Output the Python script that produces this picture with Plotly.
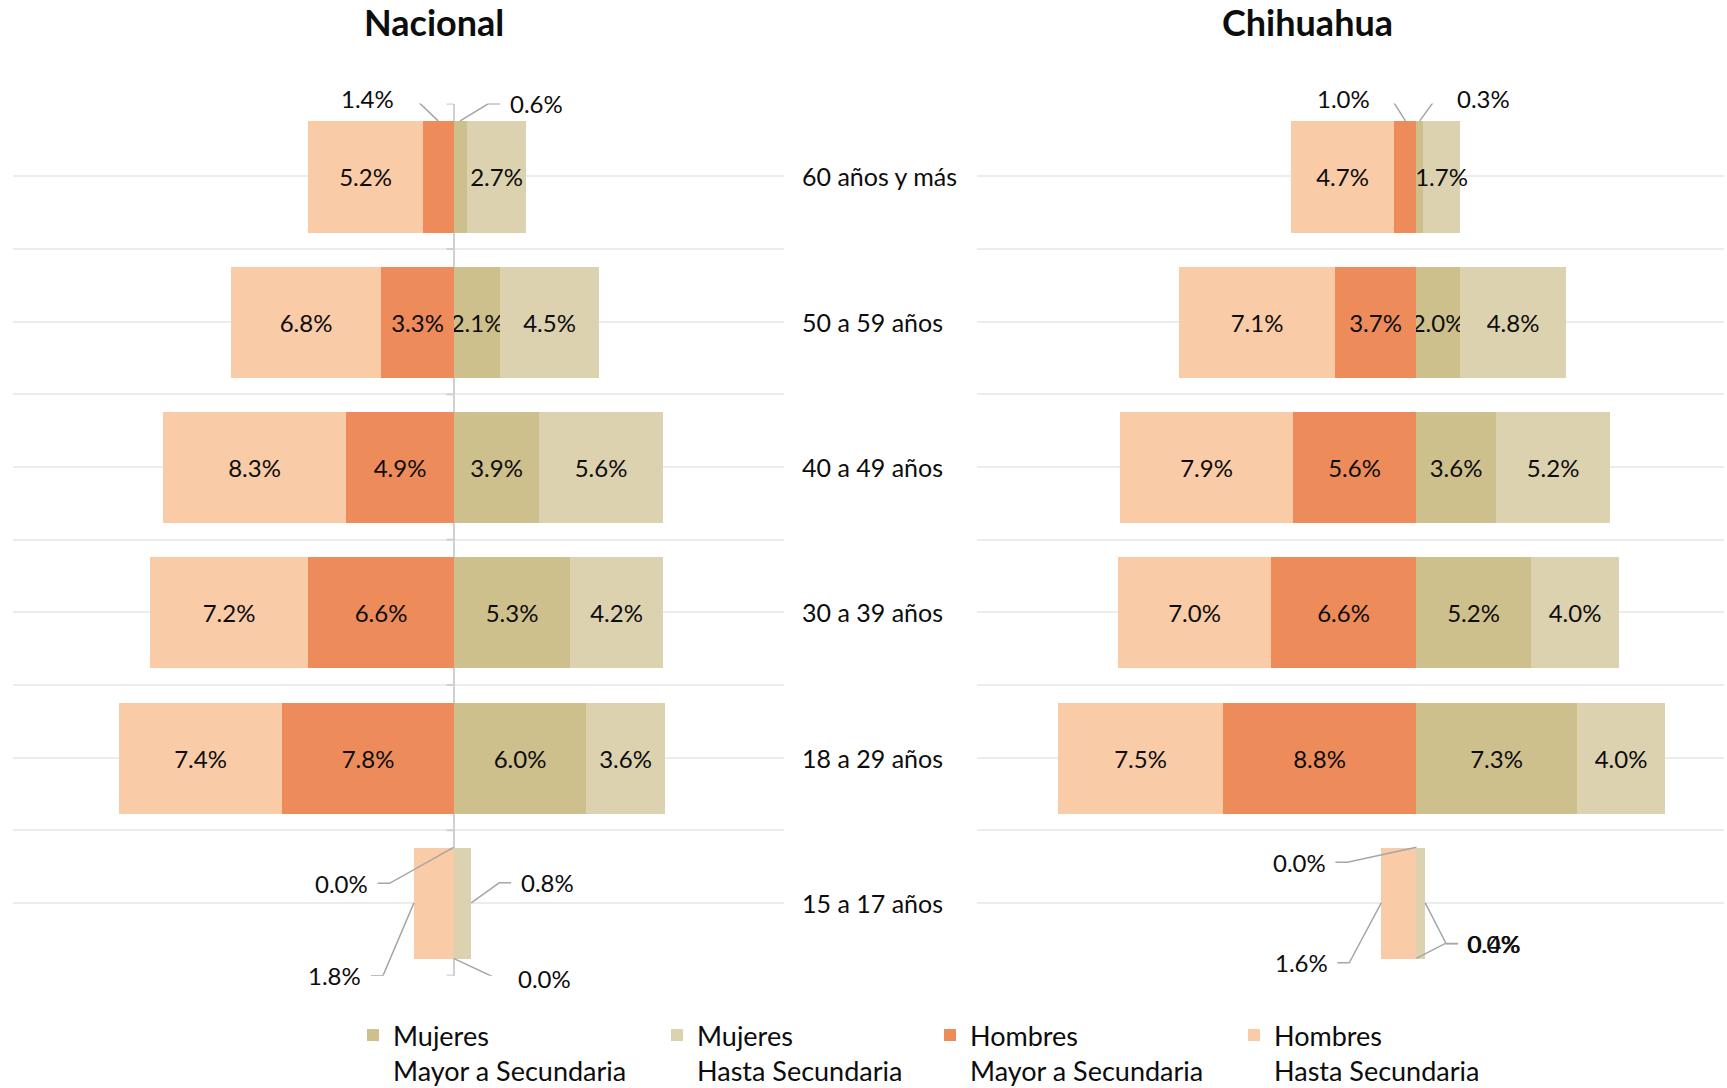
import plotly.graph_objects as go

# ---------------- data ----------------
categories = ["15 a 17 años", "18 a 29 años", "30 a 39 años",
              "40 a 49 años", "50 a 59 años", "60 años y más"]

series_names = ["Mujeres<br>Mayor a Secundaria", "Mujeres<br>Hasta Secundaria",
                "Hombres<br>Mayor a Secundaria", "Hombres<br>Hasta Secundaria"]

# Nacional
mujeres_mayor_nac = [0.0, 6.0, 5.3, 3.9, 2.1, 0.6]
mujeres_hasta_nac = [0.8, 3.6, 4.2, 5.6, 4.5, 2.7]
hombres_mayor_nac = [0.0, 7.8, 6.6, 4.9, 3.3, 1.4]
hombres_hasta_nac = [1.8, 7.4, 7.2, 8.3, 6.8, 5.2]

# Chihuahua
mujeres_mayor_chi = [0.0, 7.3, 5.2, 3.6, 2.0, 0.3]
mujeres_hasta_chi = [0.4, 4.0, 4.0, 5.2, 4.8, 1.7]
hombres_mayor_chi = [0.0, 8.8, 6.6, 5.6, 3.7, 1.0]
hombres_hasta_chi = [1.6, 7.5, 7.0, 7.9, 7.1, 4.7]

# ---------------- style ----------------
colors = ["#CDC08C", "#DCD2AF", "#ED8C5A", "#F9CBA7"]
FONT = "Lato, 'Open Sans', sans-serif"
TXT = "#0d0d0d"
LEADER = "#A6A6A6"
BAR_W = 0.765
W, H = 1727, 1088

# callouts: (series index, category index) -> (dx, dy screen px to label centre, anchor kind)
callouts_nac = {
    (2, 5): (-71, -22, "top"), (0, 5): (76, -17, "top"),
    (2, 0): (-112, 36, "top"), (3, 0): (-79, 73, "outer"),
    (1, 0): (76, -20, "outer"), (0, 0): (91, 20, "bottom"),
}
callouts_chi = {
    (2, 5): (-62, -22, "top"), (0, 5): (64, -22, "top"),
    (2, 0): (-117, 15, "top"), (3, 0): (-80, 60, "outer"),
    (1, 0): (69, 41, "outer"), (0, 0): (77, -15, "bottom"),
}

legend_text_left = [393, 697, 970, 1274]   # px, left edge of legend text
legend_ids = ["legend", "legend2", "legend3", "legend4"]

ypos = list(range(len(categories)))

fig = go.Figure()
annotations = []
shapes = []

panels = [
    ("x", "y", [mujeres_mayor_nac, mujeres_hasta_nac, hombres_mayor_nac, hombres_hasta_nac], callouts_nac, True),
    ("x2", "y2", [mujeres_mayor_chi, mujeres_hasta_chi, hombres_mayor_chi, hombres_hasta_chi], callouts_chi, False),
]

for xa, ya, vals, callouts, show in panels:
    signs = [1, 1, -1, -1]
    for s, (v, name, col) in enumerate(zip(vals, series_names, colors)):
        texts = ["" if (s, c) in callouts else f"{val:.1f}%" for c, val in enumerate(v)]
        fig.add_trace(go.Bar(
            y=ypos, x=[signs[s] * val for val in v], orientation="h",
            name=name, marker=dict(color=col, line=dict(width=0)),
            width=BAR_W, text=texts, textposition="inside",
            insidetextanchor="middle", constraintext="none", textangle=0,
            insidetextfont=dict(family=FONT, size=24, color=TXT),
            xaxis=xa, yaxis=ya, showlegend=show, legend=legend_ids[s],
            legendgroup=str(s), hoverinfo="skip",
        ))
    # callout labels with elbow leader lines
    for (s, c), (dx, dy, kind) in callouts.items():
        sign = signs[s]
        inner = vals[s - 1][c] if s in (1, 3) else 0.0
        val = vals[s][c]
        if kind == "top":
            px, py = sign * (inner + val / 2), ypos[c] + BAR_W / 2
        elif kind == "bottom":
            px, py = sign * (inner + val / 2), ypos[c] - BAR_W / 2
        else:
            px, py = sign * (inner + val), ypos[c]
        side = 1 if dx > 0 else -1
        end_x = dx - side * 36
        elb_x = end_x - side * 12
        shapes.append(dict(
            type="path", xref=xa, yref=ya, xsizemode="pixel", ysizemode="pixel",
            xanchor=px, yanchor=py,
            path=f"M0,0 L{elb_x},{-dy} L{end_x},{-dy}",
            line=dict(color=LEADER, width=1.5), layer="above",
        ))
        annotations.append(dict(
            x=px, y=py, xref=xa, yref=ya, text=f"{val:.1f}%",
            showarrow=False, xshift=dx, yshift=-dy,
            xanchor="center", yanchor="middle",
            font=dict(family=FONT, size=24, color=TXT),
        ))

# category labels in the middle
for c, cat in zip(ypos, categories):
    annotations.append(dict(
        x=800 / W, y=c, xref="paper", yref="y", text=cat, showarrow=False,
        xanchor="left", yanchor="middle",
        font=dict(family=FONT, size=25, color=TXT),
    ))

# titles
for tx, ttl in [(394 * W / 1568, "Nacional"), (1187 * W / 1568, "Chihuahua")]:
    annotations.append(dict(x=tx / W, y=1 - 22 / H, xref="paper", yref="paper",
                            text=f"<b>{ttl}</b>", showarrow=False,
                            xanchor="center", yanchor="middle",
                            font=dict(family=FONT, size=36, color=TXT)))

# small tick marks on the Nacional zero axis
for k in range(len(categories) + 1):
    yb = k - 0.5
    shapes.append(dict(type="line", xref="x", yref="y", x0=-0.32, x1=0,
                       y0=yb, y1=yb, line=dict(color="#D0D0D0", width=2)))

ydom = [1 - 975.8 / H, 1 - 103.5 / H]
yaxis_common = dict(range=[-0.502, 5.502], tick0=-0.5, dtick=0.5,
                    showgrid=True, gridcolor="#ECECEC", gridwidth=1.5,
                    showticklabels=False, zeroline=False, ticks="",
                    domain=ydom, fixedrange=True)

legends = {}
for lid, tl in zip(legend_ids, legend_text_left):
    legends[lid] = dict(orientation="v", x=(tl - 40) / W, y=1 - 1011 / H,
                        xanchor="left", yanchor="top", valign="top",
                        font=dict(family=FONT, size=27, color=TXT),
                        bgcolor="rgba(0,0,0,0)")

fig.update_layout(
    width=W, height=H, barmode="relative", bargap=0,
    margin=dict(l=0, r=0, t=0, b=0, autoexpand=False),
    paper_bgcolor="white", plot_bgcolor="white",
    font=dict(family=FONT, size=24, color=TXT),
    xaxis=dict(domain=[13 / W, 784 / W], range=[-20, 15], showgrid=False,
               showticklabels=False, zeroline=True, zerolinecolor="#D0D0D0",
               zerolinewidth=2, ticks=""),
    xaxis2=dict(domain=[977 / W, 1724 / W], range=[-20, 14], showgrid=False,
                showticklabels=False, zeroline=False, ticks=""),
    yaxis=dict(**yaxis_common, anchor="x"),
    yaxis2=dict(**yaxis_common, anchor="x2"),
    annotations=annotations, shapes=shapes,
    **legends,
)

fig.write_html("out.html", config={"displayModeBar": False},
               post_script="document.body.style.margin='0px';document.body.style.overflow='hidden';")
